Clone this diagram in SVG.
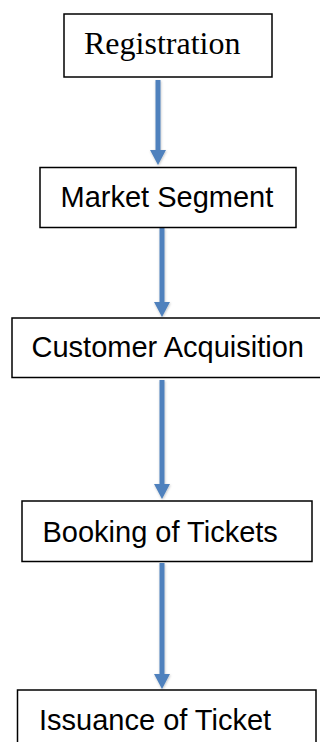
<svg xmlns="http://www.w3.org/2000/svg" width="320" height="742" viewBox="0 0 320 742">
  <style>
    .box { fill: #ffffff; stroke: #000000; stroke-width: 1.5; }
    .lbl { font-family: "Liberation Sans", Arial, sans-serif; font-size: 29px; fill: #000000; }
    .lbl-serif { font-family: "Liberation Serif", "Times New Roman", serif; font-size: 32px; fill: #000000; }
    .flow { stroke: #4f81bd; stroke-width: 5; fill: none; marker-end: url(#head); }
  </style>
  <defs>
    <marker id="head" markerUnits="userSpaceOnUse" markerWidth="16" markerHeight="16" refX="0" refY="8" orient="auto" viewBox="0 0 16 16">
      <path d="M0,0 L15,8 L0,16 z" fill="#4f81bd"/>
    </marker>
    <!-- faint shadow under the blue flow arrows -->
    <filter id="soft" filterUnits="userSpaceOnUse" x="0" y="0" width="320" height="742">
      <feDropShadow dx="0.5" dy="1" stdDeviation="1" flood-color="#000000" flood-opacity="0.25"/>
    </filter>
  </defs>

  <rect width="320" height="742" fill="#ffffff"/>

  <g id="connectors" filter="url(#soft)">
    <line class="flow" x1="158" y1="80" x2="158" y2="150"/>
    <line class="flow" x1="162" y1="228" x2="162" y2="302"/>
    <line class="flow" x1="162" y1="380" x2="162" y2="484"/>
    <line class="flow" x1="162" y1="563" x2="162" y2="674"/>
  </g>

  <g id="registration">
    <rect class="box" x="64" y="14" width="208" height="63"/>
    <text class="lbl-serif" x="84" y="53.5">Registration</text>
  </g>

  <g id="market-segment">
    <rect class="box" x="40" y="167.5" width="256" height="60"/>
    <text class="lbl" x="60.5" y="206.5">Market Segment</text>
  </g>

  <g id="customer-acquisition">
    <rect class="box" x="12" y="318" width="330" height="59.5"/>
    <text class="lbl" x="31.5" y="356.5">Customer Acquisition</text>
  </g>

  <g id="booking-of-tickets">
    <rect class="box" x="22" y="501" width="290" height="60.5"/>
    <text class="lbl" x="42.5" y="541.5">Booking of Tickets</text>
  </g>

  <g id="issuance-of-ticket">
    <rect class="box" x="17.5" y="690" width="298.5" height="80"/>
    <text class="lbl" x="39" y="730">Issuance of Ticket</text>
  </g>
</svg>
